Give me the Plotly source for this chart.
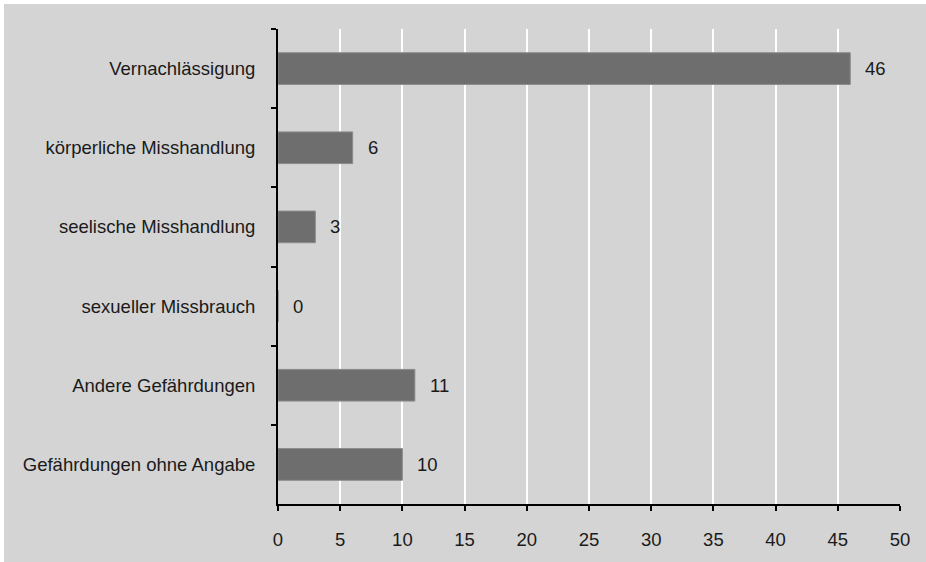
import plotly.graph_objects as go

# Gefährdungsarten und Fallzahlen
categories = [
    "Vernachlässigung",
    "körperliche Misshandlung",
    "seelische Misshandlung",
    "sexueller Missbrauch",
    "Andere Gefährdungen",
    "Gefährdungen ohne Angabe",
]
values = [46, 6, 3, 0, 11, 10]
x_ticks = [0, 5, 10, 15, 20, 25, 30, 35, 40, 45, 50]

BG = "#d4d4d4"
BAR = "#6e6e6e"
FONT = "Liberation Sans, Arial, sans-serif"
FS = 18.5

fig = go.Figure()
fig.add_trace(go.Bar(
    x=values,
    y=categories,
    orientation="h",
    marker=dict(color=BAR, line=dict(color="#8a8a8a", width=1)),
    width=0.4,
    hoverinfo="x+y",
))

# value labels beside each bar
for cat, val in zip(categories, values):
    fig.add_annotation(
        x=val, y=cat, text=str(val), showarrow=False,
        xanchor="left", xshift=13,
        font=dict(family=FONT, size=FS, color="#1a1a1a"),
    )

# thin white strips along the top and left edge of the canvas
fig.add_shape(type="rect", xref="paper", yref="paper",
              x0=-0.5, x1=1.2, y0=1.0526, y1=1.2,
              fillcolor="white", line=dict(width=0), layer="above")
fig.add_shape(type="rect", xref="paper", yref="paper",
              x0=-0.5, x1=-0.4405, y0=-0.3, y1=1.2,
              fillcolor="white", line=dict(width=0), layer="above")

fig.update_layout(
    width=926, height=562,
    margin=dict(l=278, r=26, t=29, b=58),
    paper_bgcolor=BG, plot_bgcolor=BG,
    showlegend=False,
    font=dict(family=FONT, size=FS, color="#1a1a1a"),
    xaxis=dict(
        range=[0, 50], tickvals=x_ticks, ticktext=[str(t) for t in x_ticks],
        showgrid=True, gridcolor="white", gridwidth=2,
        zeroline=False,
        showline=True, linecolor="black", linewidth=2,
        ticks="outside", ticklen=5, tickwidth=2, tickcolor="black",
        ticklabelstandoff=13,
    ),
    yaxis=dict(
        type="category", categoryorder="array", categoryarray=categories,
        autorange="reversed",
        showgrid=False, zeroline=False,
        showline=True, linecolor="black", linewidth=2,
        ticks="outside", ticklen=5, tickwidth=2, tickcolor="black",
        tickson="boundaries",
        ticklabelstandoff=17,
    ),
)

fig.write_html("out.html")
